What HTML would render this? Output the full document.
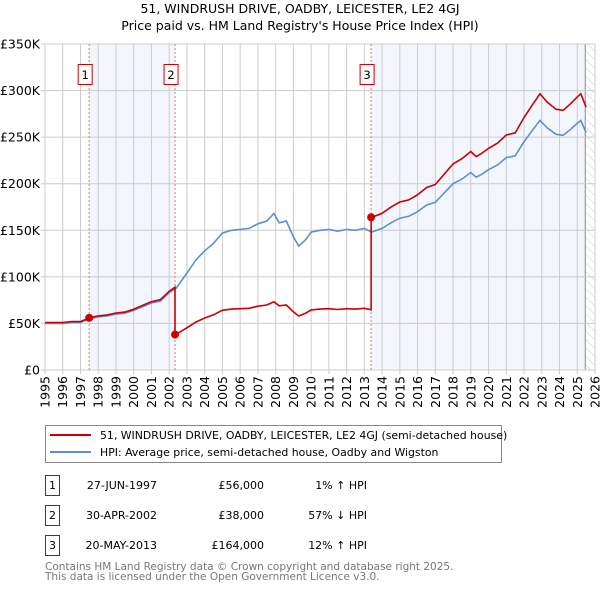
<!DOCTYPE html>
<html><head><meta charset="utf-8"><style>
body{margin:0;background:#fff;font-family:"DejaVu Sans","Liberation Sans",sans-serif;}
svg text{font-family:"DejaVu Sans","Liberation Sans",sans-serif;}
</style></head><body>
<svg id="c" width="600" height="590" xmlns="http://www.w3.org/2000/svg">
<defs><pattern id="hatch" width="6" height="6" patternUnits="userSpaceOnUse" patternTransform="rotate(-45)"><line x1="0" y1="0" x2="0" y2="6" stroke="#ccc" stroke-width="1"/></pattern></defs>
<text x="300" y="13" text-anchor="middle" font-size="12.5">51, WINDRUSH DRIVE, OADBY, LEICESTER, LE2 4GJ</text>
<text x="300" y="30" text-anchor="middle" font-size="12.5">Price paid vs. HM Land Registry's House Price Index (HPI)</text>
<g id="plot"></g>
<g>
<rect x="45.5" y="425.5" width="456" height="37" fill="#fff" stroke="#888"/>
<line x1="50" y1="435" x2="91" y2="435" stroke="#cc0000" stroke-width="2"/>
<text x="100" y="439" font-size="10.9">51, WINDRUSH DRIVE, OADBY, LEICESTER, LE2 4GJ (semi-detached house)</text>
<line x1="50" y1="452" x2="91" y2="452" stroke="#5b8fd6" stroke-width="2"/>
<text x="100" y="456" font-size="10.9">HPI: Average price, semi-detached house, Oadby and Wigston</text>
</g>
<g id="table" font-size="11"></g>
<text x="45" y="570" font-size="10.5" fill="#777">Contains HM Land Registry data © Crown copyright and database right 2025.</text>
<text x="45" y="580" font-size="10.5" fill="#777">This data is licensed under the Open Government Licence v3.0.</text>
</svg>
<script>
const hpiYears=[1995,1995.5,1996,1996.5,1997,1997.5,1998,1998.5,1999,1999.5,2000,2000.5,2001,2001.5,2002,2002.4,2003,2003.5,2004,2004.5,2005,2005.5,2006,2006.5,2007,2007.5,2007.9,2008.2,2008.6,2009,2009.3,2009.7,2010,2010.5,2011,2011.5,2012,2012.5,2013,2013.4,2014,2014.5,2015,2015.5,2016,2016.5,2017,2017.5,2018,2018.5,2019,2019.3,2019.6,2020,2020.5,2021,2021.5,2022,2022.5,2022.9,2023.3,2023.8,2024.2,2024.6,2025,2025.2,2025.5];
const hpiValues=[50,50,50,51,51,55,57,58,60,61,64,68,72,74,83,88,104,118,128,136,147,150,151,152,157,160,168,158,160,143,133,140,148,150,151,149,151,150,152,148,152,158,163,165,170,177,180,190,200,205,212,207,210,215,220,228,230,245,258,268,260,253,252,258,265,268,255];
const saleYears=[1997.49,2002.33,2013.38];
const salePrices=[56,38,164];
const saleDates=["27-JUN-1997","30-APR-2002","20-MAY-2013"];
const saleLabels=["£56,000","£38,000","£164,000"];
const salePct=["1% \u2191 HPI","57% \u2193 HPI","12% \u2191 HPI"];
const yTicks=[0,50,100,150,200,250,300,350];
const yTickLabels=["£0","£50K","£100K","£150K","£200K","£250K","£300K","£350K"];
const NS="http://www.w3.org/2000/svg";
const X0=45,X1=595,Y0=370,Y1=44;
const xs=y=>X0+(y-1995)/31*(X1-X0);
const ys=v=>Y0-v/350*(Y0-Y1);
function mk(p,t,a){const e=document.createElementNS(NS,t);for(const k in a)e.setAttribute(k,a[k]);p.appendChild(e);return e;}
const g=document.getElementById('plot');
function hpiAt(t){for(let i=1;i<hpiYears.length;i++){if(t<=hpiYears[i]){const f=(t-hpiYears[i-1])/(hpiYears[i]-hpiYears[i-1]);return hpiValues[i-1]+f*(hpiValues[i]-hpiValues[i-1]);}}return hpiValues[hpiValues.length-1];}
let r=mk(g,'rect',{x:xs(saleYears[0]),y:Y1,width:xs(saleYears[1])-xs(saleYears[0]),height:Y0-Y1,fill:'#eef3fc',opacity:0.7});


r=mk(g,'rect',{x:xs(saleYears[2]),y:Y1,width:xs(2025.45)-xs(saleYears[2]),height:Y0-Y1,fill:'#eef3fc',opacity:0.7});


r=mk(g,'rect',{x:xs(2025.45),y:Y1,width:X1-xs(2025.45),height:Y0-Y1,fill:'url(#hatch)'});


mk(g,'line',{x1:xs(2025.45),x2:xs(2025.45),y1:Y1,y2:Y0,stroke:'#888'});
for(let yr=1995;yr<=2026;yr++){const x=xs(yr);
 let l=mk(g,'line',{x1:x,x2:x,y1:Y1,y2:Y0+4,stroke:'#ccc'});
 
 
 let t=mk(g,'text',{x:0,y:0,'font-size':12.5,'text-anchor':'end',transform:`translate(${x+4.5},${Y0+6}) rotate(-90)`});
 t.textContent=yr;
 
 }
yTicks.forEach((v,i)=>{const y=ys(v);
 let l=mk(g,'line',{x1:X0-4,x2:X1,y1:y,y2:y,stroke:'#ccc'});
 
 
 let t=mk(g,'text',{x:X0-5,y:y+4.5,'font-size':12.5,'text-anchor':'end'});
 t.textContent=yTickLabels[i];
 
 });
saleYears.forEach((s,i)=>{let l=mk(g,'line',{x1:xs(s),x2:xs(s),y1:Y1,y2:Y0,stroke:'#f07070','stroke-dasharray':'2,2'});
 
 
 mk(g,'rect',{x:xs(s)-11,y:64.5,width:14,height:20,fill:'#fff',stroke:'#cc0000'});
 let t=mk(g,'text',{x:xs(s)-4,y:79,'font-size':11.5,'text-anchor':'middle'});t.textContent=i+1;
 
 });
let d=hpiYears.map((t,i)=>(i?'L':'M')+xs(t).toFixed(1)+','+ys(hpiValues[i]).toFixed(1)).join('');
let p=mk(g,'path',{d:d,fill:'none',stroke:'#5b8fd6','stroke-width':1.6});


let pts=[];const ratio0=salePrices[0]/hpiAt(saleYears[0]);
hpiYears.forEach((t,i)=>{if(t<saleYears[1])pts.push([t,hpiValues[i]*ratio0]);});
pts.push([saleYears[1],hpiAt(saleYears[1])*ratio0]);
for(let k=1;k<saleYears.length;k++){const rt=salePrices[k]/hpiAt(saleYears[k]);const end=k+1<saleYears.length?saleYears[k+1]:9999;
 pts.push([saleYears[k],salePrices[k]]);
 hpiYears.forEach((t,i)=>{if(t>saleYears[k]&&t<end)pts.push([t,hpiValues[i]*rt]);});
 if(end<9999)pts.push([end,hpiAt(end)*rt]);}
d=pts.map((q,i)=>(i?'L':'M')+xs(q[0]).toFixed(1)+','+ys(q[1]).toFixed(1)).join('');
p=mk(g,'path',{d:d,fill:'none',stroke:'#cc0000','stroke-width':1.6});


saleYears.forEach((s,i)=>{let c=mk(g,'circle',{cx:xs(s),cy:ys(salePrices[i]),r:4,fill:'#cc0000'});
 
 });
const tb=document.getElementById('table');
saleYears.forEach((s,i)=>{const y=475+i*30;
 let b=mk(tb,'rect',{x:45.5,y:y+0.5,width:14,height:20,fill:'none',stroke:'#cc0000'});
 
 
 const cells=[[52.5,'middle',i+1],[157,'end',saleDates[i]],[264,'end',saleLabels[i]],[367,'end',salePct[i]]];
 cells.forEach(c=>{let t=mk(tb,'text',{x:c[0],y:y+14,'text-anchor':c[1]});t.textContent=c[2];
  
  });});
</script>
</body></html>
